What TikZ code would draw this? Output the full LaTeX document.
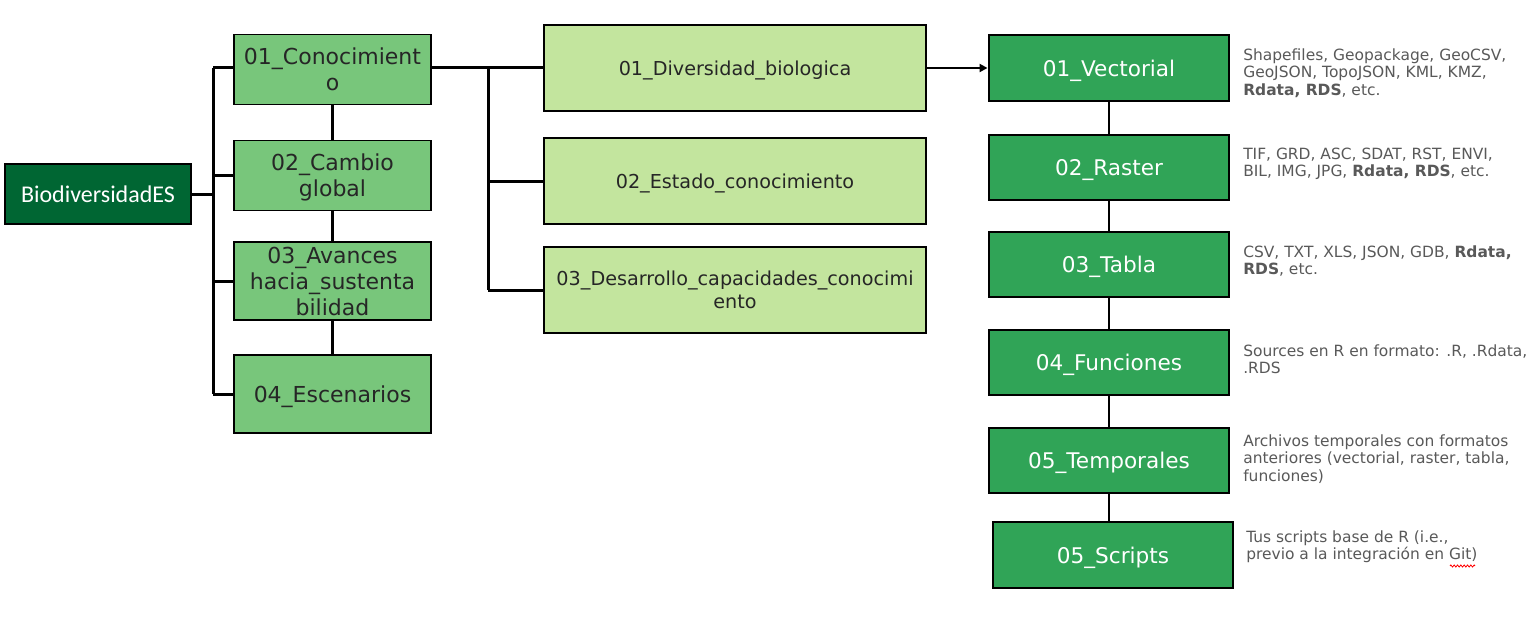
\documentclass[tikz,border=0pt]{standalone}
\usepackage{fontspec}
\setmainfont{DejaVu Sans}
\newfontfamily\biofont{Carlito}
\usetikzlibrary{arrows.meta,decorations.pathmorphing}
\definecolor{biogreen}{HTML}{006633}
\definecolor{lgreen}{HTML}{78C67B}
\definecolor{mgreen}{HTML}{C3E59E}
\definecolor{rgreen}{HTML}{30A457}
\definecolor{descgray}{HTML}{595959}
\begin{document}
\begin{tikzpicture}[x=0.75pt,y=-0.75pt,
  biobox/.style={draw=black, line width=1pt, fill=biogreen, minimum width=139.5pt, minimum height=45pt, inner sep=0pt, text=white, font=\biofont\fontsize{18}{21}\selectfont},
  lbox/.style={draw=black, line width=1pt, fill=lgreen, minimum width=147.75pt, inner sep=0pt, text depth=0pt, align=center, text=black!85, font=\fontsize{16.5}{19.5}\selectfont},
  mbox/.style={draw=black, line width=1pt, fill=mgreen, minimum width=286.5pt, minimum height=64.5pt, inner sep=0pt, text depth=0pt, align=center, text=black!85, font=\fontsize{14.4}{17.25}\selectfont},
  rbox/.style={draw=black, line width=2.2pt, fill=rgreen, minimum width=180pt, inner sep=0pt, text depth=0pt, text=white, font=\fontsize{16.2}{19}\selectfont},
  desc/.style={anchor=north west, inner sep=0pt, align=left, text=descgray, font=\fontsize{11.6}{13.1}\selectfont},
  conn/.style={line width=2.25pt},
  rconn/.style={line width=1.5pt}]
\fill[white] (0,0) rectangle (1532,617);
\useasboundingbox (0,0) rectangle (1532,617);

\node[biobox] (bio) at (98,194) {BiodiversidadES};

\node[lbox, minimum height=52.5pt] (c1) at (332.5,69.5) {01\_Conocimient\\o};
\node[lbox, minimum height=52.5pt] (c2) at (332.5,175.5) {02\_Cambio\\global};
\node[lbox, minimum height=58.5pt] (c3) at (332.5,281) {03\_Avances\\hacia\_sustenta\\bilidad};
\node[lbox, minimum height=58.5pt] (c4) at (332.5,394) {04\_Escenarios};

\node[mbox] (m1) at (735,68) {01\_Diversidad\_biologica};
\node[mbox] (m2) at (735,181) {02\_Estado\_conocimiento};
\node[mbox] (m3) at (735,290) {03\_Desarrollo\_capacidades\_conocimi\\ento};

\node[rbox, minimum height=49.5pt] (r1) at (1109,68) {01\_Vectorial};
\node[rbox, minimum height=48.75pt] (r2) at (1109,167.5) {02\_Raster};
\node[rbox, minimum height=48.75pt] (r3) at (1109,264.5) {03\_Tabla};
\node[rbox, minimum height=48.75pt] (r4) at (1109,362.5) {04\_Funciones};
\node[rbox, minimum height=48.75pt] (r5) at (1109,460.5) {05\_Temporales};
\node[rbox, minimum height=49.5pt] (r6) at (1113,555) {05\_Scripts};

\node[desc] (d1) at (1243,48.5) {Shapefiles, Geopackage, GeoCSV,\\GeoJSON, TopoJSON, KML, KMZ,\\\textbf{Rdata, RDS}, etc.};
\node[desc] (d2) at (1243,147.5) {TIF, GRD, ASC, SDAT, RST, ENVI,\\BIL, IMG, JPG, \textbf{Rdata, RDS}, etc.};
\node[desc] (d3) at (1243,245.5) {CSV, TXT, XLS, JSON, GDB, \textbf{Rdata,}\\\textbf{RDS}, etc.};
\node[desc] (d4) at (1243,344.5) {Sources en R en formato: .R, .Rdata,\\.RDS};
\node[desc] (d5) at (1243,434.5) {Archivos temporales con formatos\\anteriores (vectorial, raster, tabla,\\funciones)};
\node[desc] (d6) at (1246,530.5) {Tus scripts base de R (i.e.,\\previo a la integración en Git)};
\draw[red, line width=0.6pt, decorate, decoration={zigzag, amplitude=0.8pt, segment length=2.5pt}] (1450,566) -- (1475,566);

% left tree
\coordinate (ta) at (213,68);
\coordinate (tb) at (213,394);
\draw[conn] (ta) -- (tb);
\draw[conn] (bio.east) -- (bio.east -| ta);
\draw[conn] (ta) -- (ta -| c1.west);
\draw[conn] (c2.west -| ta) -- (c2.west);
\draw[conn] (c3.west -| ta) -- (c3.west);
\draw[conn] (tb) -- (c4.west);
\draw[conn] (c1.south) -- (c2.north);
\draw[conn] (c2.south) -- (c3.north);
\draw[conn] (c3.south) -- (c4.north);

% middle tree
\coordinate (ma) at (488,68);
\coordinate (mb) at (488,290);
\draw[conn] (ma -| c1.east) -- (m1.west);
\draw[conn] (ma) -- (mb);
\draw[conn] (m2.west -| ma) -- (m2.west);
\draw[conn] (mb) -- (m3.west);

% arrow
\draw[line width=1.5pt, -{Triangle[length=6pt,width=6pt]}] (m1.east) -- (r1.west);

% right chain
\draw[rconn] (r1.south) -- (r2.north);
\draw[rconn] (r2.south) -- (r3.north);
\draw[rconn] (r3.south) -- (r4.north);
\draw[rconn] (r4.south) -- (r5.north);
\draw[rconn] (r5.south) -- (r5.south |- r6.north);
\end{tikzpicture}
\end{document}
